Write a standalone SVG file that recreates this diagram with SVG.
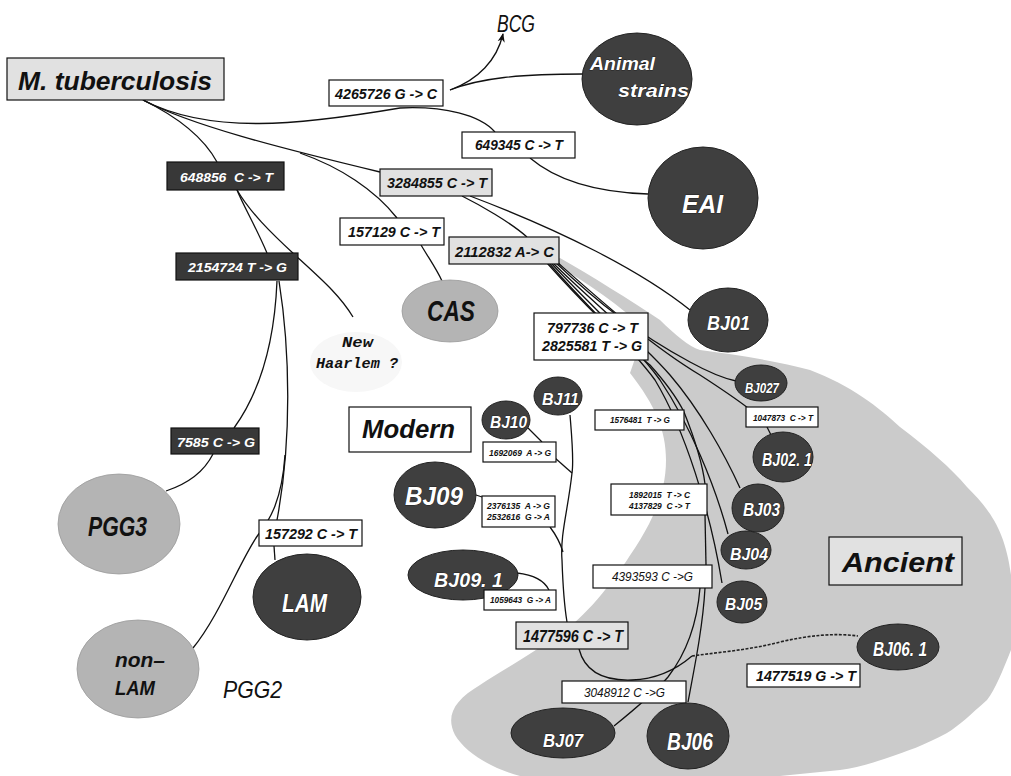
<svg xmlns="http://www.w3.org/2000/svg" width="1011" height="776" viewBox="0 0 1011 776">
<style>
.ln{fill:none;stroke:#111;stroke-width:1.3}
.dl{fill:none;stroke:#222;stroke-width:1.6;stroke-dasharray:3 1.5}
.box{stroke:#111;stroke-width:1.2}
.bw{fill:#fff}
.bl{fill:#e1e1e1}
.bd{fill:#383838}
.ed{fill:#3f3f3f;stroke:#222;stroke-width:1}
.el{fill:#b4b4b4;stroke:#9a9a9a;stroke-width:0.8}
.t{font-family:"Liberation Sans",Arial,sans-serif;font-style:italic;font-weight:bold;fill:#111}
.n{font-weight:normal}
.w{fill:#fff;stroke:#000;stroke-width:0.6;paint-order:stroke}
.m{font-family:"Liberation Mono","Courier New",monospace;font-style:italic;font-weight:bold;fill:#111}
</style>
<defs>
<marker id="ah" viewBox="0 0 10 10" refX="9" refY="5" markerWidth="7" markerHeight="7" orient="auto">
<path d="M0,1 L10,5 L0,9 L3,5 Z" fill="#111"/>
</marker>
</defs>
<rect x="0" y="0" width="1011" height="776" fill="#fff"/>

<g id="ancient-region">
<path d="M 552,262 L 560,258 C 590,275 630,300 660,320 C 675,335 690,347 700,350 C 740,355 780,362 810,370 C 850,385 880,408 900,427 C 930,450 950,467 967,487 C 990,510 1005,530 1011,575 L 1011,650 C 1003,670 995,690 987,700 C 970,715 960,725 947,733 C 925,745 905,752 890,757 C 870,764 855,768 840,770 L 780,776 L 520,776 C 490,768 465,752 455,735 C 445,715 455,700 480,685 C 500,672 525,658 563,632 C 590,612 615,580 640,540 C 655,515 666,490 666,460 C 666,430 655,405 630,373 L 645,330 C 620,305 590,285 552,262 Z" fill="#cbcbcb"/>
</g>
<g id="haarlem-cloud">
<ellipse cx="356" cy="362" rx="46" ry="30" fill="#f7f7f7"/>
</g>

<g id="connectors">
<path class="ln" d="M 143,100 C 180,118 205,140 217,162"/>
<path class="ln" d="M 143,100 C 210,135 300,125 400,108 C 445,106 480,115 495,132"/>
<path class="ln" d="M 530,158 C 550,175 585,192 648,194"/>
<path class="ln" d="M 143,100 C 190,125 280,148 380,172"/>
<path class="ln" d="M 300,153 C 340,167 375,190 397,218"/>
<path class="ln" d="M 450,90 C 478,80 497,60 503,34" marker-end="url(#ah)"/>
<path class="ln" d="M 450,90 C 480,78 520,74 583,74"/>
<path class="ln" d="M 421,245 C 430,260 437,270 442,281"/>
<path class="ln" d="M 462,196 C 480,205 510,222 527,237"/>
<path class="ln" d="M 470,196 C 560,230 640,270 690,310"/>
<path class="ln" d="M 555,262 C 600,305 640,335 690,362 C 710,373 722,378 736,381"/>
<path class="ln" d="M 557,262 C 600,300 650,345 700,375 C 720,388 735,398 748,408"/>
<path class="ln" d="M 767,427 L 771,435"/>
<path class="ln" d="M 553,263 C 590,300 640,340 670,375 C 700,410 725,455 740,488"/>
<path class="ln" d="M 551,263 C 585,300 635,345 660,380 C 690,425 715,485 728,534"/>
<path class="ln" d="M 549,263 C 580,300 630,345 655,380 C 685,430 710,510 722,583"/>
<path class="ln" d="M 547,263 C 580,300 625,345 650,365 C 668,385 678,400 684,412 C 692,432 702,460 705,484"/>
<path class="ln" d="M 705,515 L 706,565"/>
<path class="ln" d="M 705,588 C 703,625 695,665 688,702"/>
<path class="ln" d="M 700,588 C 697,625 685,655 668,677 C 655,692 640,705 614,726"/>
<path class="ln" d="M 570,415 C 572,440 574,460 572,473 C 568,510 560,535 562,560 C 563,590 565,610 567,622"/>
<path class="ln" d="M 528,428 L 542,442"/>
<path class="ln" d="M 555,458 L 572,473"/>
<path class="ln" d="M 476,495 L 482,497"/>
<path class="ln" d="M 550,527 C 556,535 560,542 563,552"/>
<path class="ln" d="M 517,573 C 535,575 545,582 549,590"/>
<path class="ln" d="M 579,649 C 585,672 605,681 632,680 C 660,679 678,668 692,656"/>
<path class="dl" d="M 692,656 C 720,652 750,650 780,642 C 810,635 835,633 858,636"/>
<path class="ln" d="M 237,190 C 243,205 255,225 267,253"/>
<path class="ln" d="M 237,190 C 250,212 270,232 295,255 C 320,278 340,295 353,317"/>
<path class="ln" d="M 277,281 C 275,330 265,385 234,428"/>
<path class="ln" d="M 279,281 C 290,350 292,440 277,520"/>
<path class="ln" d="M 274,546 L 275,560"/>
<path class="ln" d="M 285,455 C 282,500 270,520 258,535 C 240,560 220,615 193,648"/>
<path class="ln" d="M 213,454 C 205,470 190,483 166,491"/>
</g>

<g id="n-mtb"><rect class="box bl" x="7" y="58" width="217" height="42"/><text class="t" x="18" y="90" font-size="26" textLength="194" lengthAdjust="spacingAndGlyphs">M. tuberculosis</text></g>
<g id="n-4265726"><rect class="box bw" x="329" y="80" width="114" height="26"/><text class="t" x="335" y="99" font-size="14" textLength="102" lengthAdjust="spacingAndGlyphs">4265726 G -&gt; C</text></g>
<g id="n-bcg"><text class="t n" x="497" y="32" font-size="23" textLength="38" lengthAdjust="spacingAndGlyphs">BCG</text></g>
<g id="n-animal"><ellipse class="ed" cx="637" cy="79" rx="55" ry="46"/><text class="t w" x="590" y="70" font-size="19" textLength="65" lengthAdjust="spacingAndGlyphs">Animal</text><text class="t w" x="618" y="97" font-size="19" textLength="71" lengthAdjust="spacingAndGlyphs">strains</text></g>
<g id="n-649345"><rect class="box bw" x="462" y="132" width="113" height="26"/><text class="t" x="475" y="150" font-size="14" textLength="88" lengthAdjust="spacingAndGlyphs">649345 C -&gt; T</text></g>
<g id="n-eai"><ellipse class="ed" cx="703" cy="198" rx="55" ry="51"/><text class="t w" x="682" y="213" font-size="25" textLength="41" lengthAdjust="spacingAndGlyphs">EAI</text></g>
<g id="n-3284855"><rect class="box bl" x="380" y="169" width="112" height="27"/><text class="t" x="387" y="188" font-size="14" textLength="100" lengthAdjust="spacingAndGlyphs">3284855 C -&gt; T</text></g>
<g id="n-648856"><rect class="box bd" x="167" y="162" width="117" height="28"/><text class="t" style="fill:#fff" x="180" y="182" font-size="13" textLength="93" lengthAdjust="spacingAndGlyphs">648856&#160; C -&gt; T</text></g>
<g id="n-157129"><rect class="box bw" x="340" y="218" width="104" height="27"/><text class="t" x="348" y="237" font-size="14" textLength="92" lengthAdjust="spacingAndGlyphs">157129 C -&gt; T</text></g>
<g id="n-2112832"><rect class="box bl" x="449" y="237" width="110" height="27"/><text class="t" x="455" y="257" font-size="14" textLength="99" lengthAdjust="spacingAndGlyphs">2112832 A-&gt; C</text></g>
<g id="n-cas"><ellipse class="el" cx="450" cy="311" rx="48" ry="31"/><text class="t" x="427" y="321" font-size="30" textLength="48" lengthAdjust="spacingAndGlyphs">CAS</text></g>
<g id="n-2154724"><rect class="box bd" x="176" y="253" width="122" height="27"/><text class="t" style="fill:#fff" x="188" y="272" font-size="13" textLength="99" lengthAdjust="spacingAndGlyphs">2154724 T -&gt; G</text></g>
<g id="n-haarlem"><text class="m" x="342" y="347" font-size="15" textLength="31" lengthAdjust="spacingAndGlyphs">New</text><text class="m" x="316" y="368" font-size="15" textLength="82" lengthAdjust="spacingAndGlyphs">Haarlem ?</text></g>
<g id="n-bj01"><ellipse class="ed" cx="728" cy="320" rx="40" ry="32"/><text class="t w" x="707" y="330" font-size="21" textLength="43" lengthAdjust="spacingAndGlyphs">BJ01</text></g>
<g id="n-797736"><rect class="box bw" x="534" y="313" width="114" height="47"/><text class="t" x="547" y="333" font-size="15" textLength="91" lengthAdjust="spacingAndGlyphs">797736 C -&gt; T</text><text class="t" x="542" y="351" font-size="15" textLength="100" lengthAdjust="spacingAndGlyphs">2825581 T -&gt; G</text></g>
<g id="n-bj027"><ellipse class="ed" cx="761" cy="383" rx="26" ry="18"/><text class="t w" x="745" y="393" font-size="14" textLength="34" lengthAdjust="spacingAndGlyphs">BJ027</text></g>
<g id="n-1047873"><rect class="box bw" x="746" y="407" width="72" height="20"/><text class="t" x="753" y="421" font-size="8.5" textLength="60" lengthAdjust="spacingAndGlyphs">1047873&#160; C -&gt; T</text></g>
<g id="n-bj021"><ellipse class="ed" cx="783" cy="457" rx="30" ry="25"/><text class="t w" x="762" y="466" font-size="18" textLength="50" lengthAdjust="spacingAndGlyphs">BJ02. 1</text></g>
<g id="n-bj03"><ellipse class="ed" cx="758" cy="508" rx="26" ry="24"/><text class="t w" x="743" y="516" font-size="18" textLength="37" lengthAdjust="spacingAndGlyphs">BJ03</text></g>
<g id="n-bj04"><ellipse class="ed" cx="746" cy="550" rx="25" ry="19"/><text class="t w" x="730" y="560" font-size="16" textLength="38" lengthAdjust="spacingAndGlyphs">BJ04</text></g>
<g id="n-bj05"><ellipse class="ed" cx="742" cy="602" rx="25" ry="21"/><text class="t w" x="725" y="610" font-size="16" textLength="37" lengthAdjust="spacingAndGlyphs">BJ05</text></g>
<g id="n-ancient"><rect class="box bl" x="829" y="537" width="133" height="48"/><text class="t" x="842" y="572" font-size="28" textLength="112" lengthAdjust="spacingAndGlyphs">Ancient</text></g>
<g id="n-1576481"><rect class="box bw" x="595" y="410" width="89" height="20"/><text class="t" x="610" y="423" font-size="8.5" textLength="60" lengthAdjust="spacingAndGlyphs">1576481&#160; T -&gt; G</text></g>
<g id="n-1892015"><rect class="box bw" x="611" y="484" width="96" height="31"/><text class="t" x="629" y="498" font-size="8.5" textLength="61" lengthAdjust="spacingAndGlyphs">1892015&#160; T -&gt; C</text><text class="t" x="629" y="509" font-size="8.5" textLength="61" lengthAdjust="spacingAndGlyphs">4137829&#160; C -&gt; T</text></g>
<g id="n-4393593"><rect class="box bw" x="593" y="565" width="119" height="23"/><text class="t n" x="612" y="581" font-size="13" textLength="81" lengthAdjust="spacingAndGlyphs">4393593 C -&gt;G</text></g>
<g id="n-modern"><rect class="box bw" x="349" y="407" width="122" height="45"/><text class="t" x="362" y="438" font-size="26" textLength="93" lengthAdjust="spacingAndGlyphs">Modern</text></g>
<g id="n-bj11"><ellipse class="ed" cx="558" cy="396" rx="24" ry="19"/><text class="t w" x="542" y="405" font-size="16" textLength="37" lengthAdjust="spacingAndGlyphs">BJ11</text></g>
<g id="n-bj10"><ellipse class="ed" cx="506" cy="420" rx="24" ry="19"/><text class="t w" x="490" y="428" font-size="16" textLength="37" lengthAdjust="spacingAndGlyphs">BJ10</text></g>
<g id="n-1692069"><rect class="box bw" x="483" y="442" width="73" height="20"/><text class="t" x="489" y="456" font-size="8.5" textLength="62" lengthAdjust="spacingAndGlyphs">1692069&#160; A -&gt; G</text></g>
<g id="n-bj09"><ellipse class="ed" cx="435" cy="495" rx="41" ry="33"/><text class="t w" x="405" y="505" font-size="26" textLength="58" lengthAdjust="spacingAndGlyphs">BJ09</text></g>
<g id="n-2376135"><rect class="box bw" x="482" y="496" width="73" height="31"/><text class="t" x="487" y="509" font-size="8.5" textLength="63" lengthAdjust="spacingAndGlyphs">2376135&#160; A -&gt; G</text><text class="t" x="487" y="520" font-size="8.5" textLength="63" lengthAdjust="spacingAndGlyphs">2532616&#160; G -&gt; A</text></g>
<g id="n-bj091"><ellipse class="ed" cx="463" cy="575" rx="55" ry="25"/><text class="t w" x="434" y="587" font-size="21" textLength="69" lengthAdjust="spacingAndGlyphs">BJ09. 1</text></g>
<g id="n-1059643"><rect class="box bw" x="484" y="590" width="72" height="20"/><text class="t" x="490" y="603" font-size="8.5" textLength="61" lengthAdjust="spacingAndGlyphs">1059643&#160; G -&gt; A</text></g>
<g id="n-1477596"><rect class="box bl" x="516" y="622" width="112" height="27"/><text class="t" x="523" y="642" font-size="16" textLength="100" lengthAdjust="spacingAndGlyphs">1477596 C -&gt; T</text></g>
<g id="n-bj061"><ellipse class="ed" cx="898" cy="647" rx="41" ry="23"/><text class="t w" x="873" y="656" font-size="20" textLength="54" lengthAdjust="spacingAndGlyphs">BJ06. 1</text></g>
<g id="n-1477519"><rect class="box bw" x="747" y="664" width="113" height="23"/><text class="t" x="756" y="681" font-size="15" textLength="100" lengthAdjust="spacingAndGlyphs">1477519 G -&gt; T</text></g>
<g id="n-3048912"><rect class="box bw" x="562" y="681" width="124" height="22"/><text class="t n" x="584" y="697" font-size="13" textLength="81" lengthAdjust="spacingAndGlyphs">3048912 C -&gt;G</text></g>
<g id="n-bj07"><ellipse class="ed" cx="563" cy="733" rx="52" ry="25"/><text class="t w" x="543" y="747" font-size="19" textLength="40" lengthAdjust="spacingAndGlyphs">BJ07</text></g>
<g id="n-bj06"><ellipse class="ed" cx="688" cy="736" rx="41" ry="33"/><text class="t w" x="667" y="750" font-size="24" textLength="46" lengthAdjust="spacingAndGlyphs">BJ06</text></g>
<g id="n-7585"><rect class="box bd" x="171" y="428" width="88" height="26"/><text class="t" style="fill:#fff" x="177" y="447" font-size="13" textLength="78" lengthAdjust="spacingAndGlyphs">7585 C -&gt; G</text></g>
<g id="n-pgg3"><ellipse class="el" cx="119" cy="524" rx="61" ry="50"/><text class="t" x="88" y="536" font-size="27" textLength="59" lengthAdjust="spacingAndGlyphs">PGG3</text></g>
<g id="n-157292"><rect class="box bw" x="259" y="520" width="103" height="26"/><text class="t" x="265" y="539" font-size="14" textLength="92" lengthAdjust="spacingAndGlyphs">157292 C -&gt; T</text></g>
<g id="n-lam"><ellipse class="ed" cx="307" cy="597" rx="54" ry="43"/><text class="t w" x="282" y="612" font-size="26" textLength="45" lengthAdjust="spacingAndGlyphs">LAM</text></g>
<g id="n-nonlam"><ellipse class="el" cx="138" cy="669" rx="61" ry="49"/><text class="t" x="115" y="667" font-size="20" textLength="50" lengthAdjust="spacingAndGlyphs">non–</text><text class="t" x="115" y="695" font-size="21" textLength="40" lengthAdjust="spacingAndGlyphs">LAM</text></g>
<g id="n-pgg2"><text class="t n" x="223" y="698" font-size="24" textLength="59" lengthAdjust="spacingAndGlyphs">PGG2</text></g>
</svg>
